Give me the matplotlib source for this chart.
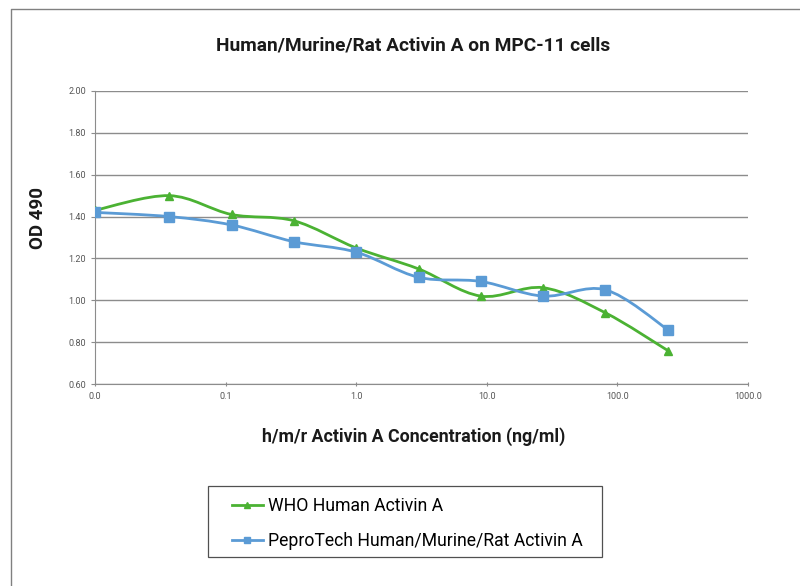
import numpy as np
import matplotlib
matplotlib.use('Agg')
import matplotlib.pyplot as plt
from matplotlib.path import Path
from matplotlib.patches import PathPatch, Rectangle
from matplotlib.lines import Line2D
from matplotlib.ticker import FuncFormatter, NullLocator

plt.rcParams['font.family'] = ['Roboto', 'DejaVu Sans']

# data
conc = [0.01, 0.037, 0.111, 0.333, 1.0, 3.0, 9.0, 27.0, 81.0, 243.0]
who_od = [1.43, 1.50, 1.41, 1.38, 1.25, 1.15, 1.02, 1.06, 0.94, 0.76]
pepro_od = [1.42, 1.40, 1.36, 1.28, 1.23, 1.11, 1.09, 1.02, 1.05, 0.86]
series_names = ['WHO Human Activin A', 'PeproTech Human/Murine/Rat Activin A']

green = '#4bb233'
blue = '#5b9bd5'


def smooth_path(xs, ys):
    # Excel-like smoothed line: catmull-rom -> bezier, done in log10(x) space
    lx = np.log10(xs)
    y = np.asarray(ys, dtype=float)
    n = len(lx)
    verts = [(lx[0], y[0])]
    codes = [Path.MOVETO]
    for i in range(n - 1):
        p0 = (lx[max(i - 1, 0)], y[max(i - 1, 0)])
        p1 = (lx[i], y[i])
        p2 = (lx[i + 1], y[i + 1])
        p3 = (lx[min(i + 2, n - 1)], y[min(i + 2, n - 1)])
        c1 = (p1[0] + (p2[0] - p0[0]) / 6, p1[1] + (p2[1] - p0[1]) / 6)
        c2 = (p2[0] - (p3[0] - p1[0]) / 6, p2[1] - (p3[1] - p1[1]) / 6)
        verts += [c1, c2, p2]
        codes += [Path.CURVE4] * 3
    verts = [(10 ** vx, vy) for vx, vy in verts]
    return Path(verts, codes)


fig = plt.figure(figsize=(8, 5.86), dpi=100)
# chart frame: only left and top edges are visible in the crop
fig.add_artist(Line2D([11 / 800, 11 / 800, 1.0], [0.0, 1 - 9 / 586, 1 - 9 / 586],
                      transform=fig.transFigure, color='#808080', linewidth=1.0))

ax = fig.add_axes([95 / 800, 1 - 384 / 586, (748 - 95) / 800, (384 - 91) / 586])
ax.set_xscale('log')
ax.set_xlim(0.01, 1000)
ax.set_ylim(0.6, 2.0)
ax.set_yticks(np.arange(0.6, 2.01, 0.2))
ax.yaxis.grid(True, color='#8c8c8c', linewidth=1.0)
ax.set_axisbelow(True)
for s in ['top', 'right']:
    ax.spines[s].set_visible(False)
for s in ['left', 'bottom']:
    ax.spines[s].set_color('#8c8c8c')
ax.xaxis.set_minor_locator(NullLocator())
ax.xaxis.set_major_formatter(FuncFormatter(lambda v, p: '%.1f' % v))
ax.yaxis.set_major_formatter(FuncFormatter(lambda v, p: '%.2f' % v))
ax.tick_params(axis='both', labelsize=6.5, colors='#8c8c8c', labelcolor='#555555', length=3)
ax.tick_params(axis='x', direction='inout', pad=4)

for ys, col, mk, ms in [(who_od, green, '^', 6), (pepro_od, blue, 's', 6.5)]:
    ax.add_patch(PathPatch(smooth_path(conc, ys), facecolor='none', edgecolor=col,
                           linewidth=2, zorder=3))
    ax.plot(conc, ys, linestyle='none', marker=mk, color=col, markersize=ms, zorder=4)

fig.text(0.5 * (95 + 748) / 800 - 0.011, 1 - 45 / 586, 'Human/Murine/Rat Activin A on MPC-11 cells',
         fontsize=13.8, fontweight='bold', ha='center', va='center', color='#1a1a1a')
fig.text(38 / 800, 1 - 218 / 586, 'OD 490', fontsize=13.5, fontweight='bold',
         rotation=90, ha='center', va='center', color='#1a1a1a')
fig.text(414 / 800, 1 - 437 / 586, 'h/m/r Activin A Concentration (ng/ml)', fontsize=12.8,
         fontweight='bold', ha='center', va='center', color='#1a1a1a')

# legend: frame drawn separately so it can be wider than its contents
fig.add_artist(Rectangle((208 / 800, 1 - 557 / 586), (602 - 208) / 800, 71 / 586,
                         transform=fig.transFigure, fill=False, edgecolor='#505050',
                         linewidth=0.9))
handles = [Line2D([], [], color=green, marker='^', markersize=5, linewidth=2),
           Line2D([], [], color=blue, marker='s', markersize=5, linewidth=2)]
leg = fig.legend(handles, series_names, loc='upper left',
                 bbox_to_anchor=(232 / 800, 1 - 497 / 586), fontsize=12.7,
                 frameon=False, handlelength=1.75, handletextpad=0.3,
                 labelspacing=0.98, borderpad=0, borderaxespad=0)

fig.savefig('out.png', dpi=100)
